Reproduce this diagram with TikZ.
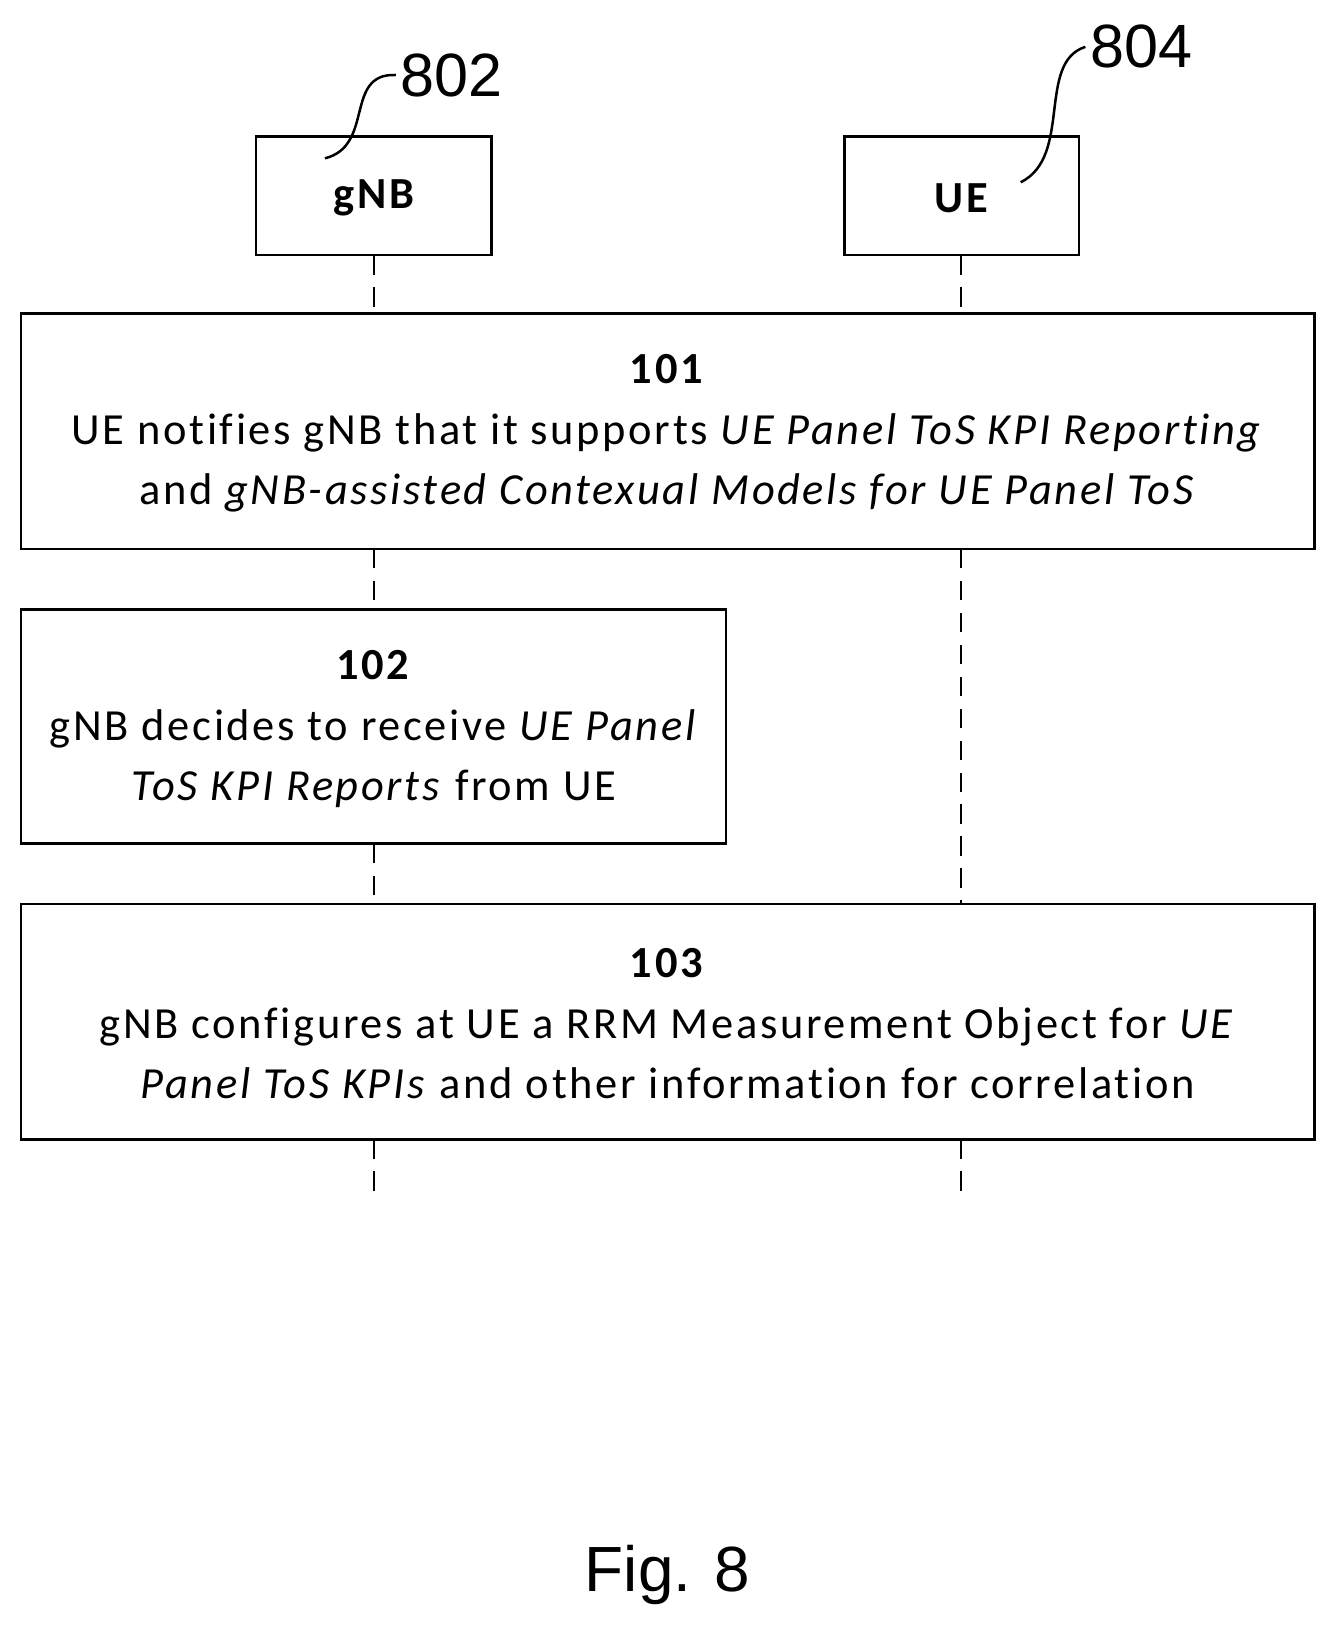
\documentclass[tikz,border=0pt]{standalone}
\usepackage{fontspec}
\setmainfont{Carlito}[LetterSpace=6,Ligatures={NoCommon}]
\newfontfamily\arialf{Liberation Sans}
\begin{document}
\begin{tikzpicture}[x=0.75pt,y=-0.75pt,
  box/.style={draw,line width=1.8pt,inner sep=0pt},
  txt/.style={align=center,font=\fontsize{32}{43.5}\selectfont},
  life/.style={line width=1.4pt,dash pattern=on 14pt off 9pt},
  callout/.style={line width=1.8pt}]
\useasboundingbox (0,0) rectangle (1280,1564);
\draw[box] (246,131) rectangle (472,245);
\node[txt,font=\fontsize{32}{36}\selectfont\bfseries] (g) at (359,190) {gNB};
\draw[box] (811,131) rectangle (1036,245);
\node[txt,font=\fontsize{32}{36}\selectfont\bfseries] (u) at (923,190) {UE};
\draw[box] (20,301) rectangle (1262,527);
\node[txt] (b1) at (641,416) {\textbf{101}\\UE notifies gNB that it supports \textit{UE Panel ToS KPI Reporting}\\and \textit{gNB-assisted Contexual Models for UE Panel ToS}};
\draw[box] (20,585) rectangle (697,810);
\node[txt] (b2) at (359,700) {\textbf{102}\\gNB decides to receive \textit{UE Panel}\\\textit{ToS KPI Reports} from UE};
\draw[box] (20,868) rectangle (1262,1094);
\node[txt] (b3) at (641,983) {\textbf{103}\\gNB configures at UE a RRM Measurement Object for \textit{UE}\\\textit{Panel ToS KPIs} and other information for correlation};
\coordinate (g0) at (359,245); \coordinate (g1) at (359,301);
\coordinate (g2) at (359,527); \coordinate (g3) at (359,585);
\coordinate (g4) at (359,810); \coordinate (g5) at (359,868);
\coordinate (g6) at (359,1094); \coordinate (g7) at (359,1152);
\coordinate (u0) at (923,245); \coordinate (u1) at (923,301);
\coordinate (u2) at (923,527); \coordinate (u3) at (923,868);
\coordinate (u4) at (923,1094); \coordinate (u5) at (923,1152);
\foreach \a/\b in {g0/g1,g2/g3,g4/g5,g6/g7,u0/u1,u2/u3,u4/u5} \draw[life] (\a) -- (\b);
\node[font=\arialf\fontsize{44}{50}\selectfont,anchor=west] (n802) at (380,72) {802};
\node[font=\arialf\fontsize{44}{50}\selectfont,anchor=west] (n804) at (1042,45) {804};
\coordinate (c802) at (312,152); \coordinate (c804) at (980,175);
\draw[callout] (c802) .. controls (360,140) and (330,70) .. (n802.west);
\draw[callout] (c804) .. controls (1030,150) and (995,60) .. (n804.west);
\node[font=\arialf\fontsize{46}{52}\selectfont] (fig) at (641,1512) {Fig. 8};
\end{tikzpicture}
\end{document}
